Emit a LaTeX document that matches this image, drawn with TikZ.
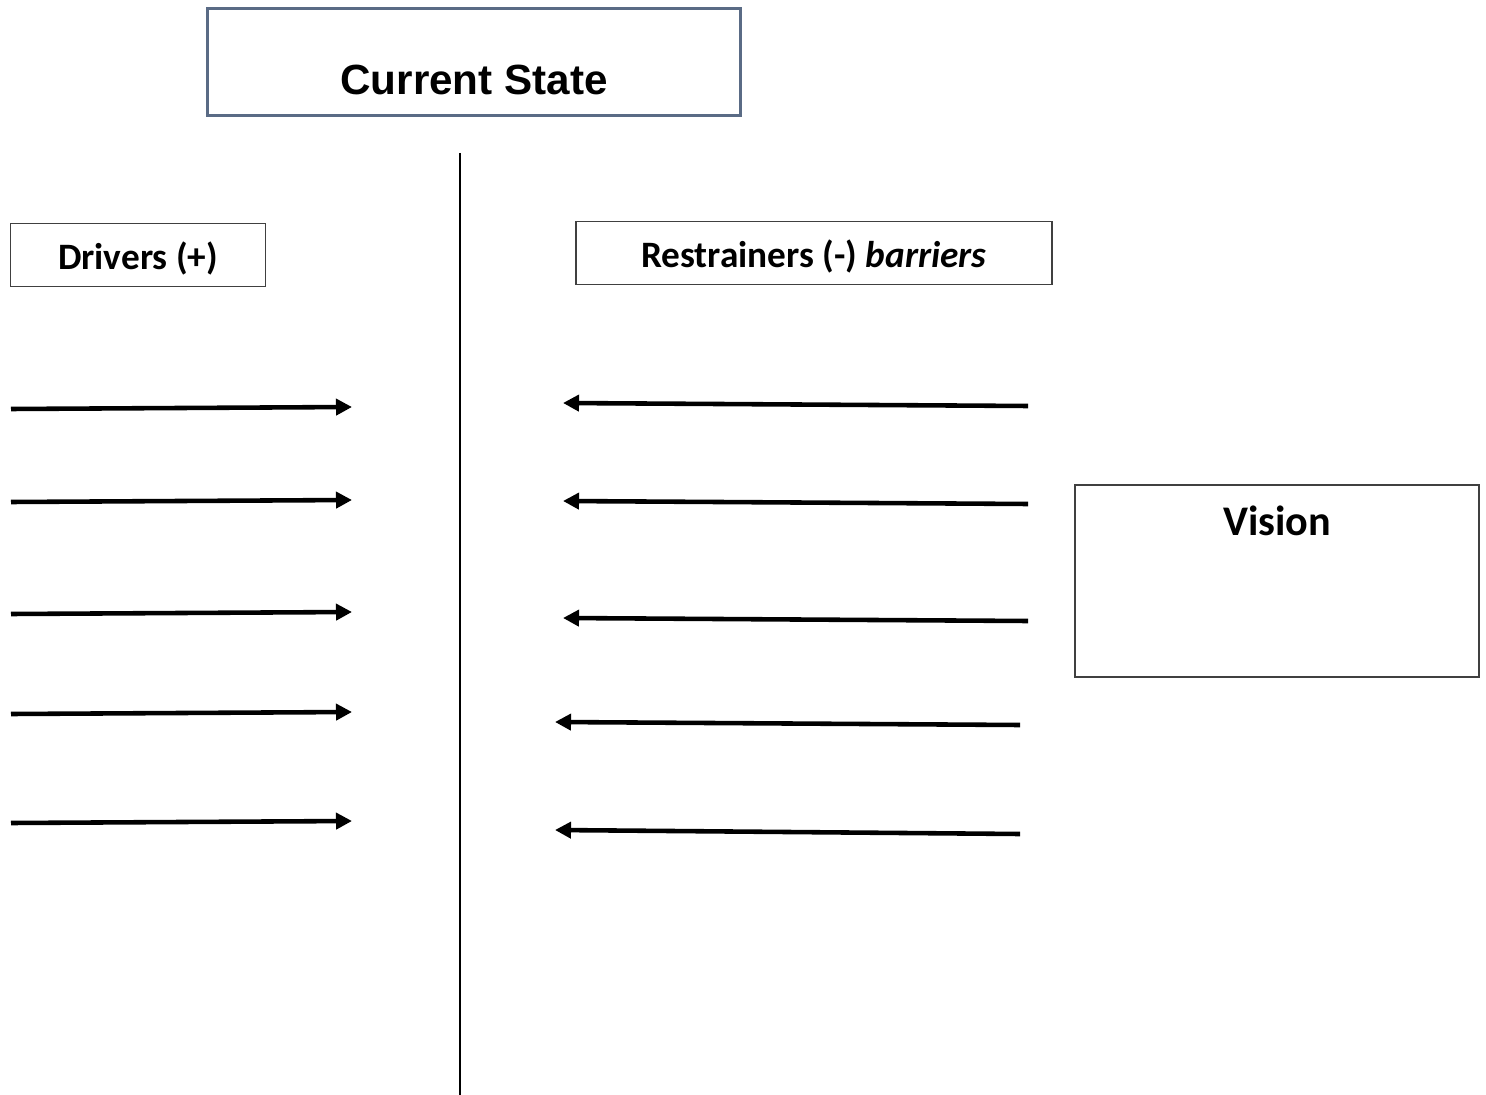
\documentclass[tikz,border=0pt]{standalone}
\usepackage{fontspec}
\setmainfont{Carlito}
\newfontfamily\arialfont{Liberation Sans}
\usetikzlibrary{arrows.meta}
\definecolor{myslate}{HTML}{5A6B85}
\colorlet{mygray}{black!75}

\begin{document}
\begin{tikzpicture}[x=0.01cm,y=-0.01cm]
\useasboundingbox (0,0) rectangle (1486,1095);
\tikzset{StateStyle/.style ={draw=myslate, line width=0.9pt, inner sep=0,
    font=\arialfont\bfseries\fontsize{12}{14}\selectfont},
  BoxStyle/.style ={draw=mygray, line width=0.5pt, inner sep=0,
    text height=2.9mm, text depth=0pt,
    font=\bfseries\fontsize{10.6}{13}\selectfont},
  ArrowStyle/.style ={-{Triangle[length=1.6mm,width=1.6mm]}, line width=1.3pt}}
\node[StateStyle, minimum width=5.32cm, minimum height=1.07cm,
  text height=6.5mm, text depth=0pt] (state) at (474,62) {Current State};
\node[BoxStyle, minimum width=2.55cm, minimum height=0.63cm] (drivers) at (138,255) {Drivers (+)};
\node[BoxStyle, minimum width=4.76cm, minimum height=0.63cm] (restr) at (814,253)
  {Restrainers (-) \textit{barriers}};
\node[BoxStyle, line width=0.6pt, minimum width=4.04cm, minimum height=1.92cm,
  text height=0pt, text depth=9.1mm, font=\bfseries\fontsize{12}{14}\selectfont]
  (vision) at (1277,581) {Vision};
% divider
\coordinate (top) at (460,153);
\coordinate (bot) at (460,1095);
\draw[line width=0.6pt] (top) -- (bot);
% driving forces
\foreach \ya/\yb [count=\i] in {409/407,502/500,614/612,714/712,823/821}{
  \coordinate (drv\i a) at (11,\ya);
  \coordinate (drv\i b) at (352,\yb);
  \draw[ArrowStyle] (drv\i a) -- (drv\i b);
}
% restraining forces
\foreach \xa/\ya/\xb/\yb [count=\i] in {1028/406/563/403,1028/504/563/501,
    1028/621/563/618,1020/725/555/722,1020/834/555/830}{
  \coordinate (res\i a) at (\xa,\ya);
  \coordinate (res\i b) at (\xb,\yb);
  \draw[ArrowStyle] (res\i a) -- (res\i b);
}
\end{tikzpicture}
\end{document}
